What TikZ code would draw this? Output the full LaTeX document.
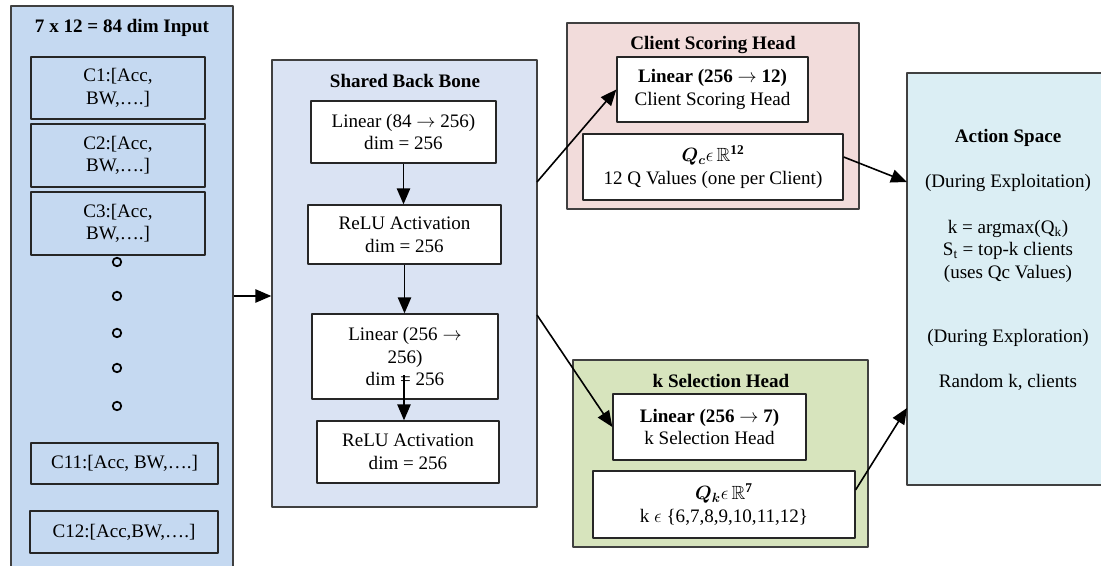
\documentclass[tikz,border=0pt]{standalone}
\usepackage{fontspec}
\setmainfont{Liberation Serif}
\usepackage{amsmath,amssymb}
\usetikzlibrary{arrows.meta}
\definecolor{inblue}{HTML}{C5D9F1}
\definecolor{bbblue}{HTML}{DAE3F3}
\definecolor{scpink}{HTML}{F2DCDB}
\definecolor{ksgreen}{HTML}{D7E4BD}
\definecolor{actcyan}{HTML}{DBEEF4}
\def\px{0.75pt}
\newcommand{\basefont}{\fontsize{14.3}{17}\selectfont}
\begin{document}
\begin{tikzpicture}[x=\px, y=-\px, font=\basefont, line join=round,
		sz/.style 2 args={minimum width=#1*\px, minimum height=#2*\px},
		panel/.style={draw=black!75, line width=1pt, inner sep=0pt},
		layer/.style={draw=black!85, fill=white, line width=1pt, align=center, inner sep=0pt},
		client/.style={draw=black!85, line width=1pt, align=center, inner sep=0pt},
		head/.style={font=\basefont\bfseries},
		flow/.style={-{Triangle[length=12pt,width=10pt]}, line width=1.2pt}]
	\useasboundingbox (0,0) rectangle (1101,566);
	% input panel
	\node[panel, fill=inblue, sz={222}{580}] (input) at (122,296) {};
	\node[head] (intitle) at (122,28) {7 x 12 = 84 dim Input};
	\node[client, sz={174}{62}] (c1) at (118,88) {C1:[Acc,\\BW,….]};
	\node[client, sz={174}{63}] (c2) at (118,155.5) {C2:[Acc,\\BW,….]};
	\node[client, sz={174}{63}] (c3) at (118,223.5) {C3:[Acc,\\BW,….]};
	\foreach \y in {262,296,333,368,406}
		\draw[line width=1.3pt] (117,\y) circle[radius=3.2pt];
	\node[client, sz={187}{41}] (c11) at (124.5,463.5) {C11:[Acc, BW,….]};
	\node[client, sz={188}{42}] (c12) at (124,532) {C12:[Acc,BW,….]};
	% shared back bone
	\node[panel, fill=bbblue, sz={265}{447}] (backbone) at (404.5,283.5) {};
	\node[head] (bbtitle) at (405,81) {Shared Back Bone};
	\node[layer, sz={185}{62}] (lin1) at (403.5,132) {Linear (84 $\rightarrow$ 256)\\dim = 256};
	\node[layer, sz={193}{59}] (relu1) at (404.5,234.5) {ReLU Activation\\dim = 256};
	\node[layer, sz={186}{85}] (lin2) at (405,356.5) {Linear (256 $\rightarrow$\\256)\\dim = 256};
	\node[layer, sz={182}{62}] (relu2) at (408,452) {ReLU Activation\\dim = 256};
	\coordinate (l2in) at (404,375);
	\draw[flow] (lin1.south) -- (lin1.south |- relu1.north);
	\draw[flow] (relu1.south) -- (relu1.south |- lin2.north);
	\draw[flow] (l2in) -- (l2in |- relu2.north);
	% client scoring head
	\node[panel, fill=scpink, sz={292}{186}] (score) at (713,116) {};
	\node[head] (sctitle) at (713,45) {Client Scoring Head};
	\node[layer, sz={191}{65}] (linc) at (712.5,89.5) {\textbf{Linear (256 $\rightarrow$ 12)}\\Client Scoring Head};
	\node[layer, sz={260}{66}] (qc) at (713,167) {$\boldsymbol{Q_c}\epsilon\,\mathbb{R}^{\mathbf{12}}$\\12 Q Values (one per Client)};
	% k selection head
	\node[panel, fill=ksgreen, sz={295}{187}] (ksel) at (720.5,453.5) {};
	\node[head] (kstitle) at (721,381) {k Selection Head};
	\node[layer, sz={193}{66}] (lk) at (709.5,427) {\textbf{Linear (256 $\rightarrow$ 7)}\\k Selection Head};
	\node[layer, sz={262}{67}] (qk) at (724,504.5) {$\boldsymbol{Q_k}\epsilon\,\mathbb{R}^{\mathbf{7}}$\\k $\epsilon$ \{6,7,8,9,10,11,12\}};
	% action space
	\node[panel, fill=actcyan, sz={210}{412}] (action) at (1012,279) {};
	\node[align=center] (acttext) at (1008,260) {\textbf{Action Space}\\[17pt]
		(During Exploitation)\\[17pt]
		k = argmax(Q\textsubscript{k})\\
		S\textsubscript{t} = top-k clients\\
		(uses Qc Values)\\[31pt]
		(During Exploration)\\[17pt]
		Random k, clients};
	% connectors
	\coordinate (bbup) at (537,182);
	\coordinate (bbdown) at (537,315);
	\coordinate (qcout) at ([yshift=7.5pt]qc.east);
	\coordinate (qkout) at ([yshift=11pt]qk.east);
	\coordinate (actup) at (907,182);
	\coordinate (actdown) at (907,408);
	\draw[flow] (input.east) -- (input.east -| backbone.west);
	\draw[flow] (bbup) -- (linc.west);
	\draw[flow] (bbdown) -- (lk.west);
	\draw[flow] (qcout) -- (actup);
	\draw[flow] (qkout) -- (actdown);
\end{tikzpicture}
\end{document}
